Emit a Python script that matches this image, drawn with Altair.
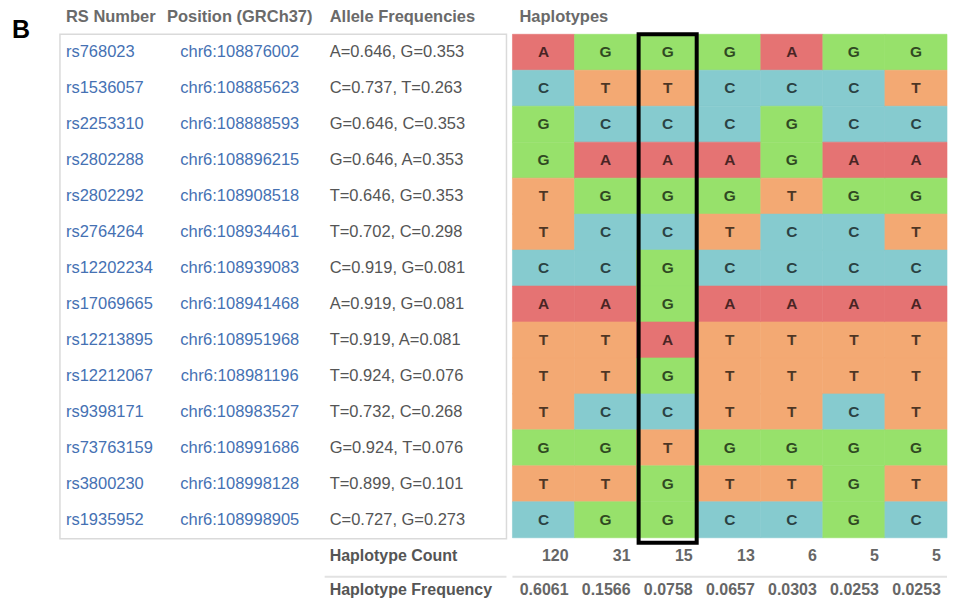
import altair as alt
import pandas as pd

# ---------------- data ----------------
rs_numbers = ["rs768023", "rs1536057", "rs2253310", "rs2802288", "rs2802292",
              "rs2764264", "rs12202234", "rs17069665", "rs12213895", "rs12212067",
              "rs9398171", "rs73763159", "rs3800230", "rs1935952"]
positions = ["chr6:108876002", "chr6:108885623", "chr6:108888593", "chr6:108896215",
             "chr6:108908518", "chr6:108934461", "chr6:108939083", "chr6:108941468",
             "chr6:108951968", "chr6:108981196", "chr6:108983527", "chr6:108991686",
             "chr6:108998128", "chr6:108998905"]
allele_freqs = ["A=0.646, G=0.353", "C=0.737, T=0.263", "G=0.646, C=0.353",
                "G=0.646, A=0.353", "T=0.646, G=0.353", "T=0.702, C=0.298",
                "C=0.919, G=0.081", "A=0.919, G=0.081", "T=0.919, A=0.081",
                "T=0.924, G=0.076", "T=0.732, C=0.268", "G=0.924, T=0.076",
                "T=0.899, G=0.101", "C=0.727, G=0.273"]
# one string per haplotype column, read top (rs768023) to bottom (rs1935952)
haplotypes = ["ACGGTTCATTTGTC", "GTCAGCCATTCGTG", "GTCAGCGGAGCTGG",
              "GCCAGTCATTTGTC", "ACGGTCCATTTGTC", "GCCAGCCATTCGGG",
              "GTCAGTCATTTGTC"]
hap_counts = [120, 31, 15, 13, 6, 5, 5]
hap_freqs = ["0.6061", "0.1566", "0.0758", "0.0657", "0.0303", "0.0253", "0.0253"]
highlight_col = 3
headers = ["RS Number", "Position (GRCh37)", "Allele Frequencies", "Haplotypes"]
footer_labels = ["Haplotype Count", "Haplotype Frequency"]

# ---------------- layout / style ----------------
W = 940
GRID_LEFT = 505
COL_W = (W - GRID_LEFT) / len(haplotypes)
MAIN_H = 504
TOP_H = 26
FOOT_H = 61
FONT = "Liberation Sans"
allele_domain = ["A", "C", "G", "T"]
allele_range = ["#e57373", "#86cbcf", "#97e16b", "#f3a973"]

xscale = alt.Scale(domain=[-GRID_LEFT / COL_W, (W - GRID_LEFT) / COL_W], nice=False, zero=False)
cscale = alt.Scale(domain=allele_domain, range=allele_range)

table = pd.DataFrame({"rs": rs_numbers, "pos": positions, "af": allele_freqs})
cells = pd.DataFrame([
    {"rs": rs_numbers[r], "col": c + 1, "allele": h[r]}
    for c, h in enumerate(haplotypes) for r in range(len(rs_numbers))
])
cells["x0"] = cells["col"] - 1
cells["xm"] = cells["col"] - 0.5

ysc = alt.Scale(domain=rs_numbers, paddingInner=0, paddingOuter=0)
Y = alt.Y("rs:N", scale=ysc, axis=None)

HDR = dict(font=FONT, fontSize=16.5, fontWeight="bold", color="#6a6a6a", baseline="middle")

# ---- top panel: panel letter and column headers ----
hdr = pd.DataFrame({"h": headers})
top_base = alt.Chart(hdr)
h_rs = top_base.transform_filter(alt.datum.h == headers[0]).mark_text(align="left", **HDR).encode(
    x=alt.value(58), y=alt.value(9), text="h:N")
h_pos = top_base.transform_filter(alt.datum.h == headers[1]).mark_text(align="center", **HDR).encode(
    x=alt.value(232), y=alt.value(9), text="h:N")
h_af = top_base.transform_filter(alt.datum.h == headers[2]).mark_text(align="left", **HDR).encode(
    x=alt.value(322), y=alt.value(9), text="h:N")
h_hap = top_base.transform_filter(alt.datum.h == headers[3]).mark_text(align="left", **HDR).encode(
    x=alt.value(512), y=alt.value(9), text="h:N")
letter = alt.Chart(pd.DataFrame({"t": ["B"]})).mark_text(
    font=FONT, fontSize=25, fontWeight="bold", color="#000000", align="left", baseline="alphabetic"
).encode(x=alt.value(4), y=alt.value(30), text="t:N")
top = alt.layer(letter, h_rs, h_pos, h_af, h_hap).properties(width=W, height=TOP_H)

# ---- main panel ----
box = alt.Chart(pd.DataFrame({"k": [1]})).mark_rect(
    fill="#ffffff", stroke="#dadada", strokeWidth=1.5
).encode(x=alt.value(52), x2=alt.value(499), y=alt.value(0), y2=alt.value(MAIN_H + 1))

cell_rect = alt.Chart(cells).mark_rect(strokeWidth=0.6).encode(
    x=alt.X("x0:Q", scale=xscale, axis=None),
    x2="col:Q",
    y=Y,
    color=alt.Color("allele:N", scale=cscale, legend=None),
    stroke=alt.Stroke("allele:N", scale=cscale, legend=None),
)
cell_text = alt.Chart(cells).mark_text(
    font=FONT, fontSize=15.5, fontWeight="bold", color="#000000", opacity=0.68,
    baseline="middle", align="center"
).encode(
    x=alt.X("xm:Q", scale=xscale, axis=None),
    y=Y,
    text="allele:N",
)
rs_text = alt.Chart(table).mark_text(
    font=FONT, fontSize=16.5, color="#4571b3", align="left", baseline="middle"
).encode(x=alt.value(58), y=Y, text="rs:N")
pos_text = alt.Chart(table).mark_text(
    font=FONT, fontSize=16.5, color="#4571b3", align="center", baseline="middle"
).encode(x=alt.value(232), y=Y, text="pos:N")
af_text = alt.Chart(table).mark_text(
    font=FONT, fontSize=16.5, color="#555555", align="left", baseline="middle"
).encode(x=alt.value(322), y=Y, text="af:N")

hl = pd.DataFrame({"col": [highlight_col]})
hl_box = alt.Chart(hl).transform_calculate(
    a="datum.col - 1 + 2 / %f" % COL_W, b="datum.col - 2 / %f" % COL_W
).mark_rect(fill=None, fillOpacity=0, stroke="#000000", strokeWidth=4).encode(
    x=alt.X("a:Q", scale=xscale, axis=None), x2="b:Q",
    y=alt.value(0), y2=alt.value(MAIN_H + 5),
)

main = alt.layer(box, cell_rect, cell_text, rs_text, pos_text, af_text, hl_box).properties(
    width=W, height=MAIN_H
)

# ---- footer panel ----
foot = pd.DataFrame({
    "col": list(range(1, len(hap_counts) + 1)) * 2,
    "metric": ["count"] * len(hap_counts) + ["freq"] * len(hap_counts),
    "val": [str(c) for c in hap_counts] + hap_freqs,
})
fy = alt.Y("metric:N", scale=alt.Scale(domain=["count", "freq"], range=[2, 69],
                                       paddingInner=0, paddingOuter=0), axis=None)
flab = pd.DataFrame({"metric": ["count", "freq"], "label": footer_labels})

sep_left = alt.Chart(pd.DataFrame({"k": [1]})).mark_rule(color="#e2e2e2", strokeWidth=2).encode(
    x=alt.value(317), x2=alt.value(499), y=alt.value(39)
)
sep_right = alt.Chart(pd.DataFrame({"s": [0], "e": [len(hap_counts)]})).mark_rule(
    color="#e2e2e2", strokeWidth=2
).encode(x=alt.X("s:Q", scale=xscale, axis=None), x2="e:Q", y=alt.value(39))
foot_lab = alt.Chart(flab).mark_text(
    font=FONT, fontSize=16, fontWeight="bold", color="#555555", align="left", baseline="middle"
).encode(x=alt.value(322), y=fy, text="label:N")
foot_val = alt.Chart(foot).mark_text(
    font=FONT, fontSize=16, fontWeight="bold", color="#666666", align="right", baseline="middle", dx=-6
).encode(x=alt.X("col:Q", scale=xscale, axis=None), y=fy, text="val:N")

footer = alt.layer(sep_left, sep_right, foot_lab, foot_val).properties(width=W, height=FOOT_H)

chart = alt.vconcat(top, main, footer, spacing=0).properties(
    padding=0, bounds="flush"
).configure_view(stroke=None).configure_concat(spacing=0)

chart.save("out.html", embed_options={"renderer": "svg", "actions": False})
